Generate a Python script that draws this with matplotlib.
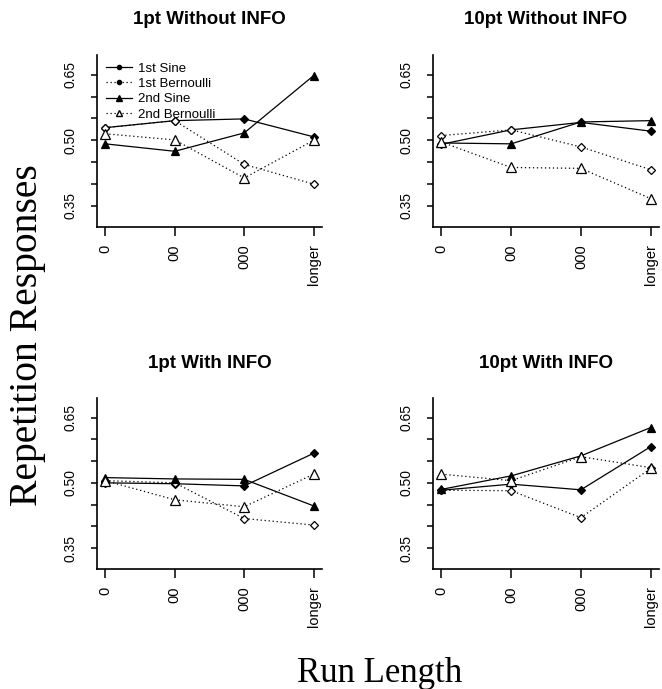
import matplotlib
matplotlib.use("Agg")
import matplotlib.pyplot as plt
from matplotlib.lines import Line2D

# run length categories on the x axis
categories = ["0", "00", "000", "longer"]
titles = ["1pt Without INFO", "10pt Without INFO", "1pt With INFO", "10pt With INFO"]
series_names = ["1st Sine", "1st Bernoulli", "2nd Sine", "2nd Bernoulli"]

# repetition responses, one list per series per panel
p1_sine1 = [0.529, 0.545, 0.549, 0.508]
p1_bern1 = [0.529, 0.545, 0.445, 0.400]
p1_sine2 = [0.492, 0.475, 0.517, 0.648]
p1_bern2 = [0.515, 0.501, 0.414, 0.500]

p2_sine1 = [0.491, 0.524, 0.541, 0.521]
p2_bern1 = [0.511, 0.524, 0.485, 0.433]
p2_sine2 = [0.494, 0.492, 0.542, 0.545]
p2_bern2 = [0.496, 0.438, 0.436, 0.367]

p3_sine1 = [0.500, 0.498, 0.493, 0.568]
p3_bern1 = [0.505, 0.500, 0.418, 0.403]
p3_sine2 = [0.512, 0.509, 0.508, 0.447]
p3_bern2 = [0.505, 0.461, 0.445, 0.520]

p4_sine1 = [0.483, 0.497, 0.484, 0.583]
p4_bern1 = [0.483, 0.482, 0.420, 0.533]
p4_sine2 = [0.485, 0.516, 0.562, 0.627]
p4_bern2 = [0.520, 0.505, 0.560, 0.535]

panels = [
    [p1_sine1, p1_bern1, p1_sine2, p1_bern2],
    [p2_sine1, p2_bern1, p2_sine2, p2_bern2],
    [p3_sine1, p3_bern1, p3_sine2, p3_bern2],
    [p4_sine1, p4_bern1, p4_sine2, p4_bern2],
]

W, H = 662, 689
dot = (0, (1, 2.2))
styles = [
    dict(ls="-", marker="D", mfc="black", ms=4.2),
    dict(ls=dot, marker="D", mfc="white", ms=3.8),
    dict(ls="-", marker="^", mfc="black", ms=5.8),
    dict(ls=dot, marker="^", mfc="white", ms=7),
]

plt.rcParams["font.family"] = ["Liberation Sans", "DejaVu Sans"]
fig = plt.figure(figsize=(W / 100, H / 100), dpi=100)

# axes boxes in pixels: left, top, right, bottom
boxes = [(97, 55, 322, 227), (433, 55, 659, 227),
         (97, 398, 322, 569), (433, 398, 659, 569)]
title_y = [19, 19, 363, 363]

x = [1, 2, 3, 4]
axes = []
for i, (l, t, r, b) in enumerate(boxes):
    ax = fig.add_axes([l / W, 1 - b / H, (r - l) / W, (b - t) / H])
    for vals, st in zip(panels[i], styles):
        ax.plot(x, vals, color="black", lw=0.9, mec="black", mew=0.9, **st)
    ax.set_xlim(0.88, 4.12)
    ax.set_ylim(0.302, 0.695)
    ax.spines["top"].set_visible(False)
    ax.spines["right"].set_visible(False)
    ax.spines["left"].set_linewidth(1.2)
    ax.spines["bottom"].set_linewidth(1.2)
    ax.set_xticks(x)
    ax.set_xticklabels(categories)
    ax.set_yticks([0.35, 0.40, 0.45, 0.50, 0.55, 0.60, 0.65])
    ax.set_yticklabels(["0.35", "", "", "0.50", "", "", "0.65"])
    ax.tick_params(axis="x", length=6.5, width=1.1, pad=6, labelsize=10.5, labelrotation=90)
    ax.tick_params(axis="y", length=4.3, width=1.1, pad=10, labelsize=10, labelrotation=90)
    for lab in ax.get_yticklabels():
        lab.set_va("center")
    fig.text((l + r) / 2 / W, 1 - title_y[i] / H, titles[i], ha="center", va="center",
             fontsize=13.5, fontweight="bold")
    axes.append(ax)

handles = [Line2D([], [], color="black", lw=0.9, ls="-", marker="o", ms=3, mfc="black"),
           Line2D([], [], color="black", lw=0.9, ls=dot, marker="o", ms=3, mfc="black"),
           Line2D([], [], color="black", lw=0.9, ls="-", marker="^", ms=4, mfc="black"),
           Line2D([], [], color="black", lw=0.9, ls=dot, marker="^", ms=4.5, mfc="white")]
axes[0].legend(handles, series_names, loc="upper left", bbox_to_anchor=(0.04, 0.957),
               frameon=False, fontsize=9.5, borderpad=0, borderaxespad=0,
               handlelength=2.0, handletextpad=0.4, labelspacing=0.24)

fig.text(28 / W, 1 - 335 / H, "Repetition Responses", rotation=90, ha="center", va="center",
         fontsize=28.5, family="Liberation Serif")
fig.text(380 / W, 1 - 682 / H, "Run Length", ha="center", va="baseline",
         fontsize=25, family="Liberation Serif")

fig.savefig("out.png", dpi=100)
